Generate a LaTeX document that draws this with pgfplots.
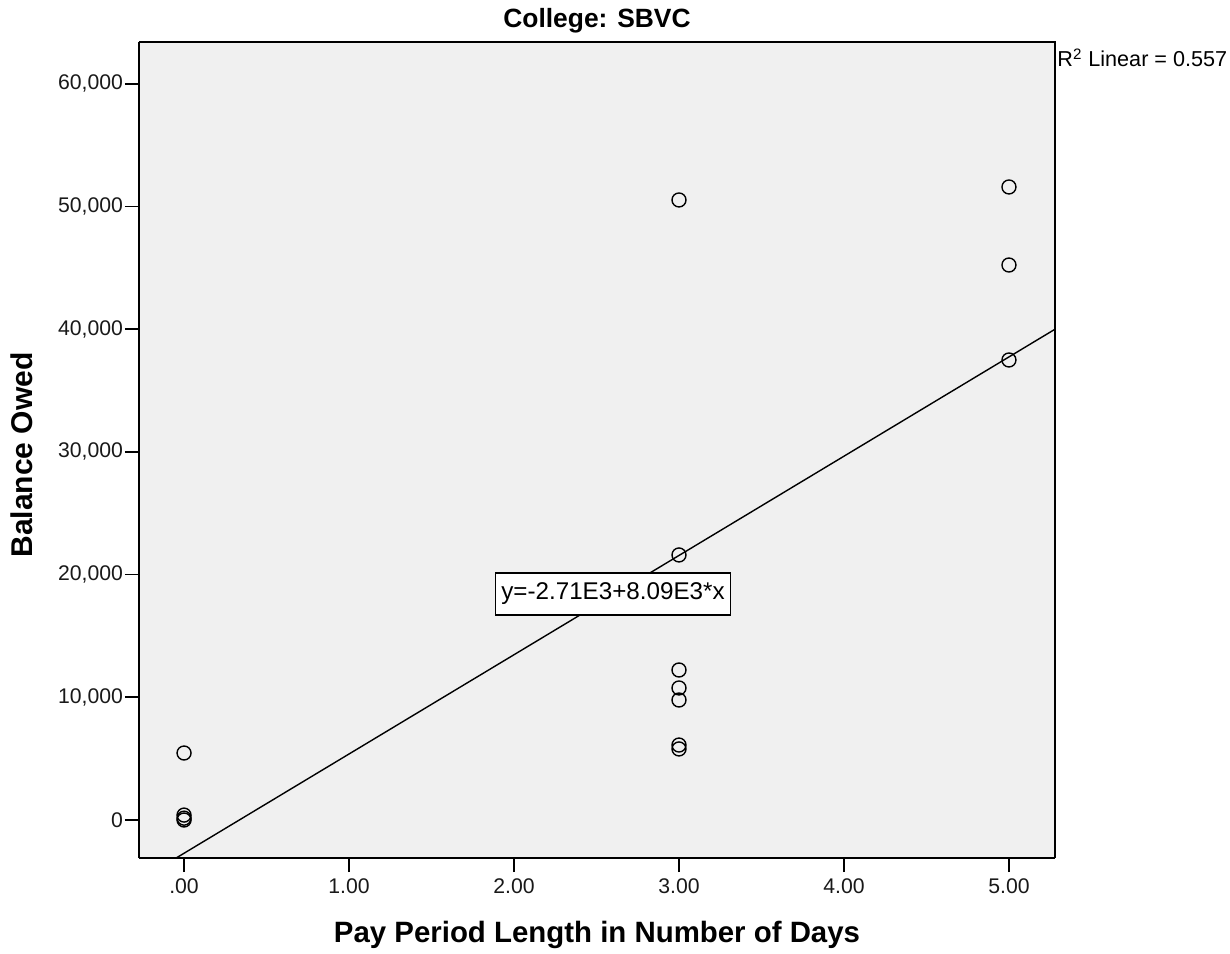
\documentclass[border=0pt]{standalone}
\usepackage{fontspec}
\setmainfont{Liberation Sans}
\usepackage{pgfplots}
\pgfplotsset{compat=1.18}
\definecolor{plotbg}{HTML}{F0F0F0}
\begin{document}
\begin{tikzpicture}
\path[use as bounding box] (-69.5pt,-47.5pt) rectangle (545.5pt,429pt);
\begin{axis}[
  at={(0pt,0pt)}, anchor=south west,
  scale only axis,
  width=458pt, height=408pt,
  xmin=-0.273, xmax=5.279,
  ymin=-3097, ymax=63406,
  axis background/.style={fill=plotbg},
  axis line style={black, line width=0.8pt},
  axis x line*=bottom, axis y line*=left,
  scaled y ticks=false, scaled x ticks=false,
  xtick={0,1,2,3,4,5},
  xticklabels={.00,1.00,2.00,3.00,4.00,5.00},
  ytick={0,10000,20000,30000,40000,50000,60000},
  yticklabels={0,{10,000},{20,000},{30,000},{40,000},{50,000},{60,000}},
  tick align=outside,
  major tick length=7pt,
  tick style={black, line width=0.8pt},
  ticklabel style={font=\fontsize{10.6}{12}\selectfont, text=black!90},
  yticklabel style={xshift=2.5pt},
  clip=true,
]
\addplot[only marks, mark=o, mark size=3.5pt, mark options={line width=0.7pt, black}]
  coordinates {
  (0,5460) (0,400) (0,150) (0,0)
  (3,50530) (3,21600) (3,12225) (3,10760) (3,9780) (3,6110) (3,5790)
  (5,51590) (5,45230) (5,37490)
  };
\addplot[black, line width=0.7pt] coordinates {(-0.273,-4919) (5.279,39997)};
\node[draw=black, line width=0.8pt, fill=white, inner sep=3pt, minimum width=116pt, minimum height=21pt, font=\fontsize{12.1}{14}\selectfont] at (axis cs:2.6,18419) {y=-2.71E3+8.09E3*x};
\end{axis}
\draw[black, line width=0.8pt] (0pt,408pt) -- (458pt,408pt) -- (458pt,0pt);
\node[anchor=base, font=\bfseries\fontsize{13.2}{15}\selectfont] at (229pt,415pt) {College: SBVC};
\node[anchor=base, font=\bfseries\fontsize{14.7}{17}\selectfont] at (229pt,-42pt) {Pay Period Length in Number of Days};
\node[anchor=base, rotate=90, font=\bfseries\fontsize{15}{17}\selectfont] at (-53pt,201.5pt) {Balance Owed};
\node[anchor=base west, inner sep=0pt, font=\fontsize{10.8}{12}\selectfont] at (459pt,395.5pt) {R\textsuperscript{2} Linear = 0.557};
\end{tikzpicture}
\end{document}
